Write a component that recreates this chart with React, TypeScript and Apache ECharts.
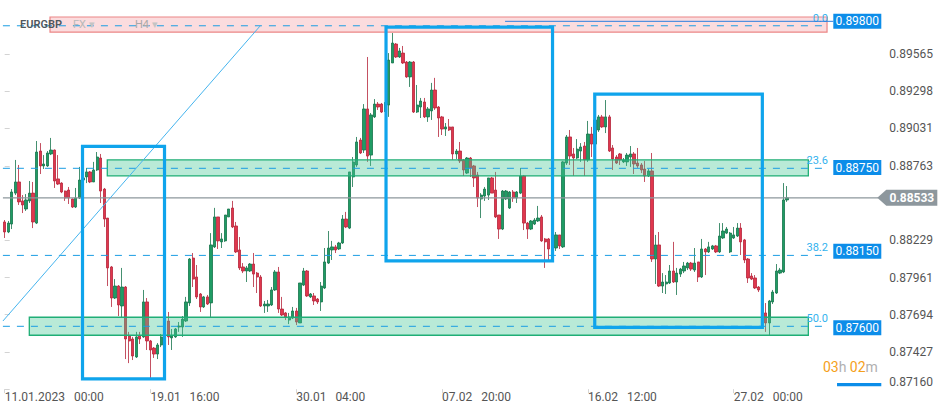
import { useEffect, useRef } from 'react';
import * as echarts from 'echarts';

// ---- candle data (EURGBP, H4) ----
const opens = [
0.88360,0.88288,0.88345,0.88567,0.88647,0.88511,0.88453,0.88511,0.88567,0.88352,
0.88869,0.88762,0.88762,0.88848,0.88876,0.88669,0.88639,0.88582,0.88589,0.88525,
0.88467,0.88532,0.88661,0.88683,0.88719,0.88647,0.88733,0.88819,0.88596,0.88388,
0.88037,0.87814,0.87900,0.87757,0.87893,0.87542,0.87520,0.87391,0.87542,0.87535,
0.87786,0.87506,0.87455,0.87412,0.87477,0.87535,0.87649,0.87528,0.87535,0.87606,
0.87606,0.87649,0.87779,0.88101,0.87965,0.87843,0.87750,0.87822,0.87779,0.88181,
0.88396,0.88217,0.88224,0.88396,0.88460,0.88331,0.88159,0.88037,0.88008,0.88008,
0.88058,0.87993,0.87965,0.87757,0.87757,0.87764,0.87872,0.88001,0.87735,0.87707,
0.87656,0.87670,0.87721,0.87635,0.87907,0.88008,0.87822,0.87829,0.87807,0.87786,
0.87886,0.88065,0.88159,0.88181,0.88166,0.88209,0.88381,0.88316,0.88683,0.88769,
0.88948,0.88876,0.89171,0.88840,0.89114,0.89206,0.89206,0.89157,0.89199,0.89501,
0.89637,0.89544,0.89572,0.89508,0.89401,0.89508,0.89149,0.89185,0.89221,0.89114,
0.89157,0.89307,0.89185,0.89114,0.89027,0.89042,0.89042,0.88848,0.88869,0.88805,
0.88711,0.88819,0.88762,0.88697,0.88525,0.88546,0.88553,0.88676,0.88589,0.88410,
0.88309,0.88525,0.88460,0.88575,0.88532,0.88567,0.88690,0.88352,0.88309,0.88345,
0.88367,0.88396,0.88238,0.88238,0.88166,0.88173,0.88267,0.88181,0.88783,0.88970,
0.88848,0.88819,0.88869,0.88905,0.88805,0.88991,0.88919,0.89020,0.89114,0.89042,
0.89114,0.88891,0.88826,0.88848,0.88791,0.88791,0.88826,0.88848,0.88783,0.88769,
0.88740,0.88690,0.88726,0.88094,0.88195,0.87900,0.87915,0.87922,0.88008,0.87929,
0.87986,0.88008,0.88030,0.88065,0.88015,0.88073,0.87965,0.88166,0.88145,0.88166,
0.88188,0.88145,0.88245,0.88280,0.88145,0.88245,0.88259,0.88316,0.88231,0.88094,
0.87972,0.87958,0.87893,0.87872,0.87707,0.87635,0.87786,0.87850,0.87993,0.88001,
0.88518];
const closes = [
0.88288,0.88352,0.88575,0.88647,0.88504,0.88482,0.88518,0.88567,0.88360,0.88862,
0.88762,0.88776,0.88855,0.88876,0.88654,0.88632,0.88575,0.88532,0.88532,0.88467,
0.88532,0.88661,0.88676,0.88719,0.88647,0.88733,0.88826,0.88582,0.88381,0.88030,
0.87814,0.87900,0.87764,0.87893,0.87520,0.87506,0.87398,0.87535,0.87520,0.87786,
0.87506,0.87441,0.87412,0.87477,0.87535,0.87649,0.87535,0.87542,0.87592,0.87613,
0.87663,0.87786,0.88094,0.87950,0.87822,0.87750,0.87822,0.87771,0.88195,0.88396,
0.88224,0.88238,0.88410,0.88453,0.88324,0.88145,0.88030,0.88008,0.88030,0.88058,
0.87986,0.87965,0.87757,0.87771,0.87771,0.87872,0.88001,0.87735,0.87692,0.87678,
0.87678,0.87721,0.87642,0.87922,0.88008,0.87829,0.87843,0.87793,0.87786,0.87900,
0.88073,0.88173,0.88181,0.88159,0.88209,0.88381,0.88324,0.88719,0.88791,0.88934,
0.88855,0.89171,0.88833,0.89128,0.89206,0.89185,0.89149,0.89214,0.89522,0.89644,
0.89544,0.89587,0.89501,0.89401,0.89508,0.89149,0.89199,0.89228,0.89114,0.89171,
0.89307,0.89178,0.89106,0.89027,0.89042,0.89020,0.88848,0.88869,0.88798,0.88733,
0.88819,0.88748,0.88676,0.88532,0.88553,0.88596,0.88676,0.88567,0.88396,0.88309,
0.88582,0.88582,0.88575,0.88532,0.88575,0.88690,0.88352,0.88309,0.88367,0.88374,
0.88388,0.88224,0.88217,0.88166,0.88181,0.88267,0.88188,0.88791,0.88970,0.88833,
0.88819,0.88883,0.88898,0.88805,0.88991,0.88919,0.89092,0.89114,0.89042,0.89114,
0.88869,0.88812,0.88783,0.88805,0.88805,0.88840,0.88848,0.88776,0.88762,0.88733,
0.88690,0.88726,0.88094,0.88195,0.87900,0.87929,0.87929,0.88008,0.87929,0.87993,
0.88022,0.88044,0.88065,0.88022,0.88065,0.87965,0.88166,0.88145,0.88181,0.88188,
0.88145,0.88259,0.88295,0.88309,0.88280,0.88267,0.88316,0.88217,0.88087,0.87958,
0.87950,0.87886,0.87872,0.87707,0.87635,0.87793,0.87857,0.88008,0.88015,0.88518,
0.88533];
const lows = [
0.88245,0.88280,0.88309,0.88553,0.88482,0.88424,0.88439,0.88496,0.88316,0.88345,
0.88704,0.88740,0.88755,0.88840,0.88604,0.88625,0.88567,0.88511,0.88489,0.88460,
0.88460,0.88525,0.88639,0.88639,0.88639,0.88647,0.88726,0.88496,0.88324,0.87900,
0.87750,0.87807,0.87685,0.87678,0.87376,0.87347,0.87369,0.87384,0.87484,0.87528,
0.87441,0.87240,0.87384,0.87376,0.87462,0.87528,0.87477,0.87441,0.87528,0.87571,
0.87535,0.87642,0.87757,0.87893,0.87807,0.87714,0.87743,0.87764,0.87678,0.88173,
0.88166,0.88173,0.88217,0.88396,0.88316,0.88137,0.88015,0.87993,0.87929,0.88001,
0.87893,0.87850,0.87750,0.87707,0.87714,0.87757,0.87865,0.87707,0.87685,0.87656,
0.87627,0.87663,0.87620,0.87635,0.87900,0.87822,0.87814,0.87764,0.87771,0.87721,
0.87879,0.88058,0.88087,0.88137,0.88159,0.88202,0.88316,0.88309,0.88611,0.88755,
0.88848,0.88855,0.88791,0.88762,0.89106,0.89164,0.89142,0.89149,0.89114,0.89501,
0.89537,0.89537,0.89494,0.89394,0.89329,0.89142,0.89142,0.89106,0.89106,0.89078,
0.89092,0.89164,0.88970,0.88984,0.88977,0.89013,0.88805,0.88812,0.88783,0.88690,
0.88704,0.88683,0.88611,0.88467,0.88388,0.88511,0.88518,0.88567,0.88388,0.88238,
0.88302,0.88518,0.88453,0.88504,0.88496,0.88560,0.88302,0.88238,0.88302,0.88338,
0.88360,0.88217,0.88030,0.88073,0.88159,0.88152,0.88166,0.88173,0.88769,0.88769,
0.88690,0.88812,0.88791,0.88690,0.88791,0.88826,0.88912,0.89006,0.89035,0.88998,
0.88862,0.88733,0.88776,0.88769,0.88783,0.88762,0.88755,0.88704,0.88748,0.88711,
0.88647,0.88683,0.88073,0.87915,0.87893,0.87850,0.87843,0.87915,0.87922,0.87836,
0.87965,0.87993,0.88015,0.88008,0.88001,0.87929,0.87958,0.87979,0.88137,0.88159,
0.88137,0.88137,0.88238,0.88273,0.88137,0.88238,0.88252,0.88123,0.88065,0.87922,
0.87943,0.87879,0.87857,0.87685,0.87571,0.87549,0.87771,0.87843,0.87986,0.87993,
0.88504];
const highs = [
0.88374,0.88367,0.88596,0.88805,0.88769,0.88553,0.88560,0.88654,0.88647,0.88941,
0.88926,0.88840,0.88869,0.88963,0.88880,0.88840,0.88645,0.88585,0.88611,0.88528,
0.88604,0.88755,0.88733,0.88748,0.88726,0.88791,0.88862,0.88848,0.88604,0.88388,
0.88044,0.87950,0.87907,0.88030,0.87900,0.87571,0.87535,0.87571,0.87571,0.87872,
0.87814,0.87513,0.87462,0.87491,0.87556,0.87670,0.87714,0.87592,0.87599,0.87642,
0.87685,0.87822,0.88101,0.88137,0.88051,0.87850,0.87829,0.87836,0.88280,0.88461,
0.88396,0.88280,0.88410,0.88453,0.88511,0.88360,0.88252,0.88065,0.88044,0.88065,
0.88137,0.88001,0.87979,0.87793,0.87800,0.87893,0.88015,0.88037,0.87822,0.87714,
0.87707,0.87750,0.87743,0.87922,0.88030,0.88015,0.87850,0.87850,0.87814,0.87929,
0.88173,0.88295,0.88224,0.88195,0.88217,0.88410,0.88432,0.88719,0.88826,0.88970,
0.88963,0.89206,0.89544,0.89142,0.89242,0.89221,0.89214,0.89221,0.89572,0.89716,
0.89644,0.89609,0.89623,0.89515,0.89515,0.89515,0.89343,0.89250,0.89250,0.89185,
0.89358,0.89394,0.89192,0.89121,0.89070,0.89099,0.89042,0.88883,0.88934,0.88812,
0.88826,0.88826,0.88769,0.88719,0.88567,0.88611,0.88676,0.88683,0.88719,0.88410,
0.88589,0.88589,0.88582,0.88589,0.88582,0.88748,0.88697,0.88360,0.88374,0.88388,
0.88475,0.88410,0.88245,0.88245,0.88188,0.88288,0.88267,0.88798,0.88984,0.89020,
0.88891,0.88955,0.88926,0.88934,0.89085,0.89042,0.89128,0.89128,0.89128,0.89235,
0.89128,0.88912,0.88840,0.88855,0.88819,0.88855,0.88905,0.88862,0.88891,0.88783,
0.88798,0.88740,0.88855,0.88267,0.88288,0.87993,0.87979,0.88051,0.88217,0.88030,
0.88030,0.88073,0.88073,0.88073,0.88173,0.88073,0.88238,0.88173,0.88217,0.88195,
0.88195,0.88352,0.88352,0.88324,0.88288,0.88324,0.88352,0.88352,0.88238,0.88101,
0.87993,0.87979,0.87900,0.87879,0.87778,0.87800,0.87872,0.88058,0.88030,0.88639,
0.88618];

// ---- axes ----
const xTickLabels = ['11.01.2023   00:00', '19.01   16:00', '30.01   04:00', '07.02   20:00', '16.02   12:00', '27.02   00:00'];
const barsPerTick = 41;
const totalSlots = 247;
const yTickValues = [0.89565, 0.89298, 0.89031, 0.88763, 0.88229, 0.87961, 0.87694, 0.87427, 0.8716];
const yMin = 0.8716;
const yMax = 0.89953;

// ---- annotations (x in bar-index units, y in price) ----
const fibLabels = ['0.0', '23.6', '38.2', '50.0'];
const fibLinePrices = [0.89768, 0.88745, 0.8812, 0.87611];
const levelTagPrices = [0.898, 0.8875, 0.8815, 0.876];
const fibLineEnd = 231.5;
const redZones = [[12.74, 0.89831, 231.24, 0.89723]];
const greenZones = [[28.85, 0.88805, 225.98, 0.8869], [6.92, 0.87676, 225.98, 0.87547]];
const hiddenTag = [[234.05, 0.87204, 246.5, 0.87181]];
const blueBoxes = [[21.88, 0.88903, 44.94, 0.87234], [107.23, 0.89759, 154.05, 0.88081], [165.92, 0.89278, 213.05, 0.87604]];
const trendLine = [[-0.5, 0.87649], [71.8, 0.89766]];
const topLineStart = 140.7;
const lastPrice = 0.88533;

const FONT = 'Roboto, "Noto Sans", sans-serif';

export default function App() {
  const ref = useRef<HTMLDivElement>(null);
  useEffect(() => {
    if (!ref.current) return;
    const chart = echarts.init(ref.current, null, { renderer: 'svg' });
    const slots = Array.from({ length: totalSlots }, (_, i) => String(i));
    const candles = opens.map((o, i) => [o, closes[i], lows[i], highs[i]]);
    const showIdx = (i: number) => i % barsPerTick === 0 && i / barsPerTick < xTickLabels.length;

    const rectItem = (fill: string, stroke: string, lw: number) => (params: any, api: any) => {
      const p1 = api.coord([api.value(0), api.value(1)]);
      const p2 = api.coord([api.value(2), api.value(3)]);
      return {
        type: 'rect',
        shape: { x: p1[0], y: p1[1], width: p2[0] - p1[0], height: p2[1] - p1[1] },
        style: { fill, stroke, lineWidth: lw },
      };
    };

    const option: any = {
      animation: false,
      backgroundColor: '#ffffff',
      textStyle: { fontFamily: FONT },
      grid: { left: 2.92, right: 67.7, top: 0, bottom: 23.85, outerBoundsMode: 'none', containLabel: false },
      xAxis: [
        {
          type: 'category',
          data: slots,
          boundaryGap: true,
          axisLine: { show: false },
          axisTick: {
            show: true, alignWithLabel: true, length: 4,
            interval: (i: number) => showIdx(i),
            lineStyle: { color: '#d6d6d6' },
          },
          axisLabel: {
            interval: (i: number) => showIdx(i),
            formatter: (_v: string, i: number) => xTickLabels[Math.round(i / barsPerTick)] || '',
            align: 'left', color: '#555', fontSize: 12, margin: 2, fontFamily: FONT,
          },
          splitLine: { show: false },
        },
        { type: 'value', min: -0.5, max: totalSlots - 0.5, show: false },
      ],
      yAxis: {
        type: 'value', position: 'right', min: yMin, max: yMax, scale: true,
        splitLine: { show: false },
        axisLine: { show: false },
        axisTick: { show: true, length: 5, customValues: yTickValues, lineStyle: { color: '#d3d3d3' } },
        axisLabel: {
          customValues: yTickValues, margin: 8, color: '#555', fontSize: 12, fontFamily: FONT,
          formatter: (v: number) => (Math.abs(v - yMin) < 1e-7 ? '{low|' + v.toFixed(5) + '}' : v.toFixed(5)),
          rich: { low: { padding: [0, 0, 14, 0], color: '#555', fontSize: 12, fontFamily: FONT } },
        },
      },
      graphic: [
        { type: 'text', left: 20, top: 19, z: 10, style: { text: 'EURGBP', fill: '#4f575d', font: `600 11px ${FONT}` } },
        { type: 'text', left: 73, top: 19, z: 10, style: { text: 'FX', fill: '#b9b9b9', font: `11px ${FONT}` } },
        { type: 'text', left: 89, top: 19, z: 10, style: { text: '▾', fill: '#c4c4c4', font: `11px ${FONT}` } },
        { type: 'text', left: 135, top: 19, z: 10, style: { text: 'H4', fill: '#a9a9a9', font: `11px ${FONT}` } },
        { type: 'text', left: 152, top: 19, z: 10, style: { text: '▾', fill: '#c4c4c4', font: `11px ${FONT}` } },
        {
          type: 'text', left: 823, top: 360, z: 10,
          style: {
            text: '{o|03}{g|h} {o|02}{g|m}',
            rich: {
              o: { fill: '#f5a01a', font: `14px ${FONT}` },
              g: { fill: '#b0b0b0', font: `14px ${FONT}` },
            },
          },
        },
      ],
      series: [
        {
          type: 'candlestick', name: 'EURGBP', xAxisIndex: 0, yAxisIndex: 0, z: 2,
          data: candles, barWidth: 2.8,
          itemStyle: { color: '#1f9c64', color0: '#e0374d', borderColor: '#15744b', borderColor0: '#b5243a', borderWidth: 0.8 },
        },
        {
          type: 'custom', xAxisIndex: 1, yAxisIndex: 0, z: 3, silent: true, data: [[0, lastPrice]],
          renderItem: (params: any, api: any) => {
            const cs = params.coordSys;
            const y = api.coord([0, api.value(1)])[1];
            const r = cs.x + cs.width;
            return {
              type: 'group',
              children: [
                { type: 'line', shape: { x1: cs.x, y1: y, x2: r - 3, y2: y }, style: { stroke: '#8d979c', lineWidth: 1.2 } },
                { type: 'polygon', shape: { points: [[r - 4, y], [r + 5, y - 8], [r + 56, y - 8], [r + 56, y + 8], [r + 5, y + 8]] }, style: { fill: '#8d979d' } },
                { type: 'text', style: { text: api.value(1).toFixed(5), x: r + 30.5, y: y, align: 'center', verticalAlign: 'middle', fill: '#ffffff', font: `bold 12px ${FONT}` } },
              ],
            };
          },
        },
        { type: 'custom', xAxisIndex: 1, yAxisIndex: 0, z: 3, silent: true, data: redZones, renderItem: rectItem('rgba(240,110,115,0.24)', '#ec8585', 1.2) },
        { type: 'custom', xAxisIndex: 1, yAxisIndex: 0, z: 3, silent: true, data: greenZones, renderItem: rectItem('rgba(70,200,150,0.38)', '#1fae76', 1.3) },
        { type: 'custom', xAxisIndex: 1, yAxisIndex: 0, z: 3, silent: true, data: hiddenTag, renderItem: rectItem('#0c8de9', 'none', 0) },
        {
          type: 'custom', xAxisIndex: 1, yAxisIndex: 0, z: 4, silent: true,
          data: fibLinePrices.map((p, i) => [i, p, levelTagPrices[i]]),
          renderItem: (params: any, api: any) => {
            const cs = params.coordSys;
            const idx = api.value(0);
            const y = api.coord([0, api.value(1)])[1];
            const ty = api.coord([0, api.value(2)])[1];
            const x0 = api.coord([-0.5, 0])[0];
            const x1 = api.coord([fibLineEnd, 0])[0];
            const r = cs.x + cs.width;
            const children: any[] = [
              { type: 'line', shape: { x1: x0, y1: y, x2: x1, y2: y }, style: { stroke: '#1b9de3', lineWidth: 1, lineDash: [7, 7] } },
              { type: 'text', style: { text: fibLabels[idx], x: x1, y: y - 2, align: 'right', verticalAlign: 'bottom', fill: '#33b2ee', font: `11px ${FONT}` } },
              { type: 'rect', shape: { x: r - 48, y: ty - 7.5, width: 48, height: 15 }, style: { fill: '#0c8de9' } },
              { type: 'text', style: { text: api.value(2).toFixed(5), x: r - 24, y: ty, align: 'center', verticalAlign: 'middle', fill: '#ffffff', font: `12px ${FONT}` } },
            ];
            if (idx === 0) {
              const xs = api.coord([topLineStart, 0])[0];
              children.push({ type: 'line', shape: { x1: xs, y1: ty, x2: r - 48, y2: ty }, style: { stroke: '#2b7fe0', lineWidth: 1 } });
            }
            return { type: 'group', children };
          },
        },
        {
          type: 'custom', xAxisIndex: 1, yAxisIndex: 0, z: 4, silent: true, data: [[trendLine[0][0], trendLine[0][1], trendLine[1][0], trendLine[1][1]]],
          renderItem: (params: any, api: any) => {
            const a = api.coord([api.value(0), api.value(1)]);
            const b = api.coord([api.value(2), api.value(3)]);
            return { type: 'line', shape: { x1: a[0], y1: a[1], x2: b[0], y2: b[1] }, style: { stroke: '#45b4ee', lineWidth: 1 } };
          },
        },
        { type: 'custom', xAxisIndex: 1, yAxisIndex: 0, z: 5, silent: true, data: blueBoxes, renderItem: rectItem('none', '#0fa4ec', 3.2) },
      ],
    };
    chart.setOption(option);
    return () => chart.dispose();
  }, []);
  return <div ref={ref} style={{ position: 'fixed', left: 0, top: 0, width: 949, height: 413, background: '#fff' }} />;
}
